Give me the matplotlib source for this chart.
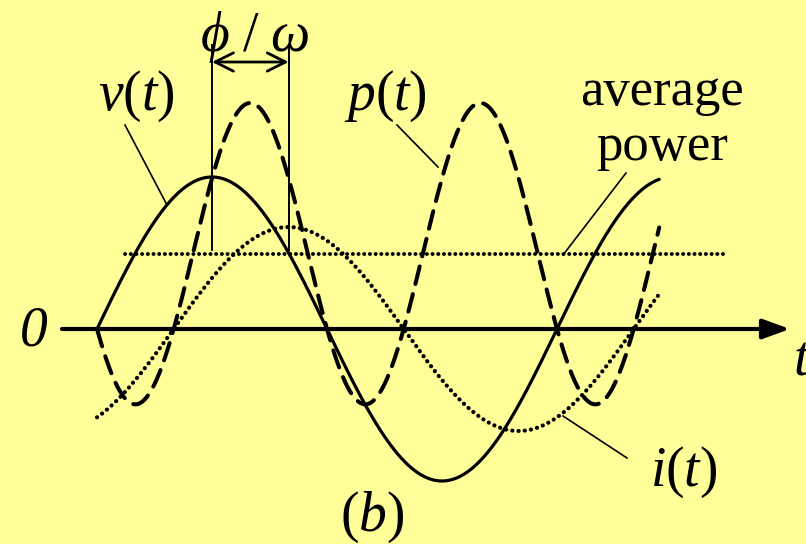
import numpy as np
import matplotlib.pyplot as plt

plt.rcParams['font.family'] = ['Liberation Serif', 'DejaVu Serif']
plt.rcParams['mathtext.fontset'] = 'custom'
plt.rcParams['mathtext.rm'] = 'Liberation Serif'
plt.rcParams['mathtext.it'] = 'Liberation Serif:italic'
plt.rcParams['lines.scale_dashes'] = False

# амплитуды и сдвиг фазы (ток отстаёт от напряжения)
V_M = 152
I_M = 102
PHASE_DEG = 60
T_END = 440          # градусы, ωt
P_PEAK = 226         # пик мгновенной мощности на рисунке
AVG_SPAN = (22, 493)  # отрезок линии средней мощности

phi = np.radians(PHASE_DEG)
t = np.linspace(0, T_END, 900)
v = V_M * np.sin(np.radians(t))
i = I_M * np.sin(np.radians(t) - phi)
p_scale = P_PEAK / (V_M * I_M / 2 * (1 + np.cos(phi)))
p = p_scale * v * i
p_avg = p_scale * V_M * I_M / 2 * np.cos(phi)

# пиксели -> координаты графика
K = 460 / 360
X0, Y0 = 97, 329
W, H = 806, 544


def at(px, py):
    return (px - X0) / K, Y0 - py


fig = plt.figure(figsize=(W / 100, H / 100), dpi=100)
fig.patch.set_facecolor('#FFFF99')
ax = fig.add_axes([0, 0, 1, 1])
ax.set_facecolor('#FFFF99')
ax.set_xlim(-X0 / K, (W - X0) / K)
ax.set_ylim(-(H - Y0), Y0)
ax.axis('off')

# ось времени со стрелкой
ax.annotate('', xy=at(790, Y0), xytext=at(62, Y0),
            arrowprops=dict(arrowstyle='-|>,head_length=0.55,head_width=0.2',
                            mutation_scale=30, lw=3, color='black',
                            shrinkA=0, shrinkB=0))

ax.plot(t, v, color='black', lw=2.3, solid_capstyle='round')
ax.plot(t, i, color='black', lw=3.0, linestyle=(0, (0.1, 4.4)),
        dash_capstyle='round')
ax.plot(t, p, color='black', lw=2.9, linestyle=(0, (13, 7.5)),
        dash_capstyle='round')
ax.plot(AVG_SPAN, [p_avg, p_avg], color='black', lw=2.8,
        linestyle=(0, (0.1, 4.0)), dash_capstyle='round')

# сдвиг φ/ω между максимумами v и i
t1, t2 = 90, 90 + PHASE_DEG
y_top, y_bot = at(0, 45)[1], at(0, 250)[1]
for tv in (t1, t2):
    ax.plot([tv, tv], [y_bot, y_top], color='black', lw=1.4)
ya = at(0, 62)[1]
ax.annotate('', xy=(t2, ya), xytext=(t1, ya),
            arrowprops=dict(arrowstyle='<->,head_length=0.6,head_width=0.3',
                            mutation_scale=22, lw=2, color='black',
                            shrinkA=0, shrinkB=0))

# выноски
leaders = [((125, 125), (167, 205)),
           ((397, 125), (438, 167)),
           ((626, 173), (563, 255)),
           ((563, 416), (627, 458))]
for a, b in leaders:
    xa, yaa = at(*a)
    xb, yb = at(*b)
    ax.plot([xa, xb], [yaa, yb], color='black', lw=1.2)

fs = 38
txt = dict(fontsize=40, ha='left', va='baseline', color='black')
ax.text(*at(98, 110), r'$v(t)$', **txt)
ax.text(*at(344, 110), r'$p(t)$', **txt)
ax.text(*at(662, 105), 'average', fontsize=fs, ha='center', va='baseline')
ax.text(*at(662, 160), 'power', fontsize=fs, ha='center', va='baseline')
ax.text(*at(650, 486), r'$i(t)$', **txt)
ax.text(*at(340, 531), r'$(b)$', **txt)
ax.text(*at(20, 345), '0', fontstyle='italic', **txt)
ax.text(*at(794, 375), 't', fontstyle='italic', **txt)
ax.text(*at(200, 51), r'$\phi\ /\ \omega$', **txt)

fig.savefig('out.png', dpi=100, facecolor=fig.get_facecolor())
